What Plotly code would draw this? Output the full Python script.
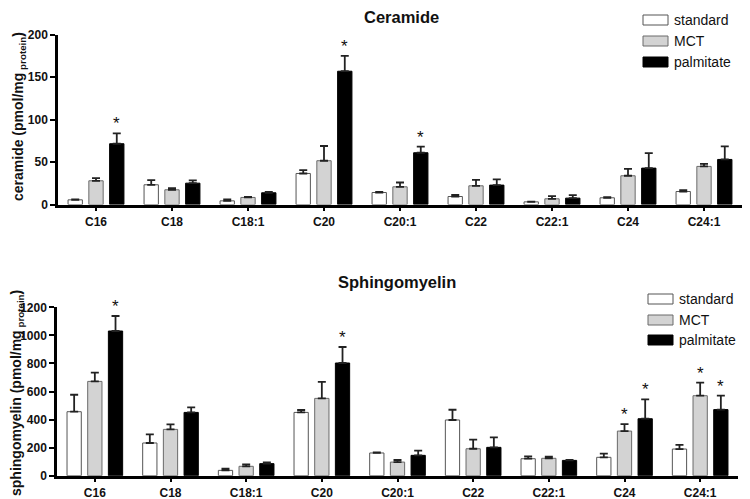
import plotly.graph_objects as go

categories = ["C16", "C18", "C18:1", "C20", "C20:1", "C22", "C22:1", "C24", "C24:1"]
groups = ["standard", "MCT", "palmitate"]

# Ceramide (pmol/mg protein): means and upper SEM
cer_standard = [5.5, 23.2, 4.3, 36.5, 14.1, 9.4, 3.1, 7.9, 15.3]
cer_standard_err = [0.6, 5.5, 1.6, 4.0, 0.8, 2.0, 0.4, 0.7, 1.6]
cer_mct = [27.9, 17.3, 8.3, 51.5, 20.8, 22.0, 6.7, 33.8, 44.8]
cer_mct_err = [3.1, 2.0, 0.7, 17.3, 5.1, 7.0, 3.1, 8.2, 3.1]
cer_palm = [71.5, 25.1, 13.8, 156.8, 60.9, 22.8, 7.5, 42.8, 53.0]
cer_palm_err = [12.2, 3.2, 1.1, 18.1, 7.1, 6.7, 3.5, 17.7, 15.4]
cer_sig = {"palmitate": ["C16", "C20", "C20:1"]}

# Sphingomyelin (pmol/mg protein): means and upper SEM
sm_standard = [456, 233, 38, 451, 162, 397, 121, 131, 190]
sm_standard_err = [121, 62, 12, 17, 4, 73, 17, 26, 29]
sm_mct = [672, 330, 67, 551, 97, 192, 124, 318, 570]
sm_mct_err = [62, 36, 14, 117, 15, 65, 11, 50, 93]
sm_palm = [1031, 451, 86, 803, 145, 202, 109, 406, 471]
sm_palm_err = [107, 36, 9, 114, 33, 71, 3, 138, 99]
sm_sig = {"MCT": ["C24", "C24:1"], "palmitate": ["C16", "C20", "C24", "C24:1"]}

fills = {"standard": "#ffffff", "MCT": "#d3d3d3", "palmitate": "#000000"}
outlines = {"standard": "#555555", "MCT": "#6a6a6a", "palmitate": "#000000"}
FONT = "Arial, Liberation Sans, sans-serif"
NARROW = "Liberation Sans Narrow, Arial Narrow, Liberation Sans, sans-serif"
BARGAP = 0.18
GROUPGAP = 0.31
W, H = 750, 499
OFF = 8  # page body margin of the browser: positions below are window pixels


def px_x(p):
    return (p - OFF) / W


def px_y(p):
    return 1 - (p - OFF) / H


fig = go.Figure()

panels = [
    ("x", "y", [cer_standard, cer_mct, cer_palm], [cer_standard_err, cer_mct_err, cer_palm_err], cer_sig),
    ("x2", "y2", [sm_standard, sm_mct, sm_palm], [sm_standard_err, sm_mct_err, sm_palm_err], sm_sig),
]

annotations = []
slot = (1 - BARGAP) / len(groups)
for xa, ya, vals, errs, sig in panels:
    for gi, (g, v, e) in enumerate(zip(groups, vals, errs)):
        fig.add_trace(go.Bar(
            x=categories, y=v, name=g, xaxis=xa, yaxis=ya, showlegend=False,
            marker=dict(color=fills[g], line=dict(color=outlines[g], width=1)),
            error_y=dict(type="data", symmetric=False, array=e, arrayminus=[0] * len(e),
                         color="#222222", thickness=1.8, width=4),
        ))
        off = (gi - 1) * slot
        for c in sig.get(g, []):
            i = categories.index(c)
            annotations.append(dict(
                x=i + off, y=v[i] + e[i], xref=xa, yref=ya, text="*", showarrow=False,
                xanchor="center", yanchor="bottom", yshift=-2,
                font=dict(family=FONT, size=17, color="#111")))

axis_common = dict(showline=True, linecolor="black", linewidth=2.5, ticks="outside",
                   tickcolor="black", tickwidth=2, showgrid=False, zeroline=False, automargin=False,
                   tickfont=dict(family=NARROW, size=12, color="#111", weight="bold"))

fig.update_layout(
    width=W, height=H, margin=dict(l=0, r=0, t=0, b=0, autoexpand=False),
    paper_bgcolor="white", plot_bgcolor="white",
    barmode="group", bargap=BARGAP, bargroupgap=GROUPGAP,
    xaxis=dict(domain=[px_x(58), px_x(742)], anchor="y", ticklen=4, range=[-0.5, 8.5], **axis_common),
    yaxis=dict(domain=[px_y(204.5), px_y(34.5)], anchor="x", range=[0, 200],
               tickvals=[0, 50, 100, 150, 200], ticklen=5, **axis_common),
    xaxis2=dict(domain=[px_x(57), px_x(738)], anchor="y2", ticklen=4, range=[-0.5, 8.5], **axis_common),
    yaxis2=dict(domain=[px_y(475.7), px_y(307.3)], anchor="x2", range=[0, 1200],
                tickvals=[0, 200, 400, 600, 800, 1000, 1200], ticklen=5, **axis_common),
    font=dict(family=FONT),
)


def paper_text(px, py, text, size, bold=False, angle=0, xanchor="center", family=FONT):
    annotations.append(dict(x=px_x(px), y=px_y(py), xref="paper", yref="paper", showarrow=False,
                            xanchor=xanchor, yanchor="middle", textangle=angle,
                            text=f"<b>{text}</b>" if bold else text,
                            font=dict(family=family, size=size, color="#111")))


# titles
paper_text(401, 17, "Ceramide", 16.5, bold=True)
paper_text(397, 282, "Sphingomyelin", 16.5, bold=True)
paper_text(19, 117, "ceramide (pmol/mg<sub> protein</sub>)", 14, bold=True, angle=-90)
paper_text(17, 393, "sphingomyelin (pmol/mg<sub> protein</sub>)", 14, bold=True, angle=-90)

# custom legends (wide swatches as in the reference)
shapes = []
for (bx, tx, rows) in [(643, 672, [20, 41, 62]), (648, 677, [299, 320, 340])]:
    for g, ry in zip(groups, rows):
        shapes.append(dict(type="rect", xref="paper", yref="paper",
                           x0=px_x(bx), x1=px_x(bx + 25), y0=px_y(ry + 5), y1=px_y(ry - 5),
                           fillcolor=fills[g], line=dict(color=outlines[g], width=1)))
        paper_text(tx, ry, g, 14, xanchor="left")

fig.update_layout(annotations=annotations, shapes=shapes)
fig.write_html("out.html")
